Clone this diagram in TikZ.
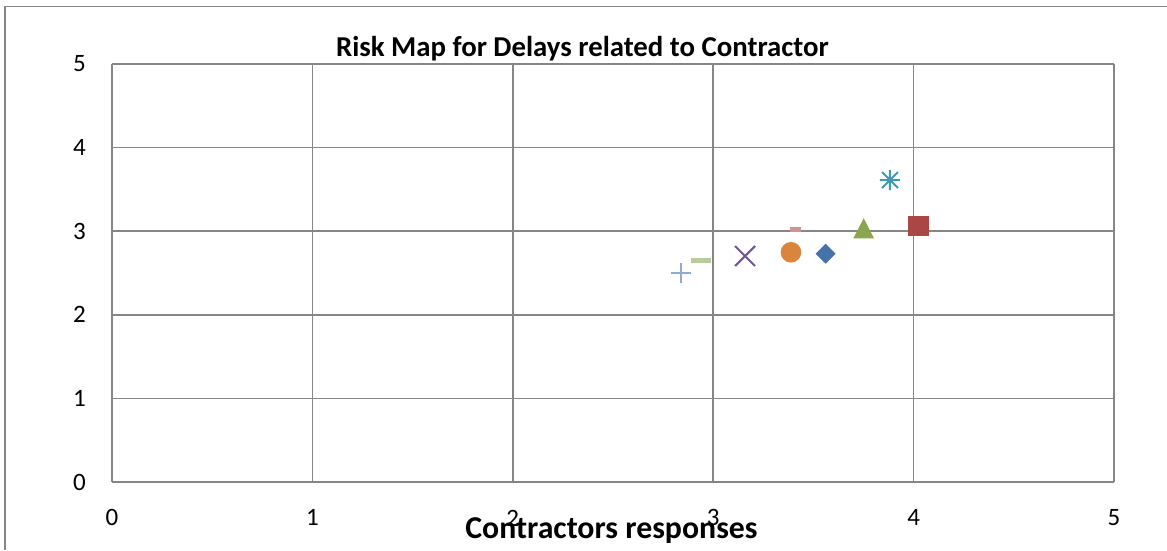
\documentclass[tikz,border=0pt]{standalone}
\usepackage{fontspec}
\setmainfont{Carlito}
\definecolor{gridc}{HTML}{868686}
\definecolor{cBlue}{HTML}{4572A7}
\definecolor{cRed}{HTML}{AA4643}
\definecolor{cGreen}{HTML}{89A54E}
\definecolor{cPurple}{HTML}{71588F}
\definecolor{cTeal}{HTML}{4198AF}
\definecolor{cOrange}{HTML}{DB843D}
\definecolor{cLBlue}{HTML}{93A9CF}
\definecolor{cPink}{HTML}{D19392}
\definecolor{cLGreen}{HTML}{B9CD96}
\begin{document}
\begin{tikzpicture}[x=1pt,y=1pt,
  gridline/.style={draw=gridc,line width=1.6pt},
  ticklab/.style={font=\fontsize{25}{27}\selectfont,inner sep=0pt},
  mk/.style={inner sep=0pt,outer sep=0pt},
  strokemark/.style={line width=2pt,line cap=butt}]
\useasboundingbox (0,0) rectangle (1167,550);
% outer chart border
\draw[gridc,line width=1.6pt] (5,0) -- (5,543.5) -- (1167,543.5);
\begin{scope}[shift={(112,68)},x=200.4pt,y=83.6pt]
  \foreach \i in {0,...,5} {
    \draw[gridline] (\i,0) -- (\i,5);
    \draw[gridline] (0,\i) -- (5,\i);
    \node[ticklab] (yl\i) at (-0.162,\i) {\i};
    \node[ticklab] (xl\i) at (\i,-0.43) {\i};
  }
  % data points
  \coordinate (pPlus) at (2.838,2.496);
  \coordinate (pDashG) at (2.938,2.647);
  \coordinate (pX) at (3.159,2.703);
  \coordinate (pDashP) at (3.412,3.026);
  \coordinate (pCirc) at (3.388,2.748);
  \coordinate (pDiam) at (3.561,2.731);
  \coordinate (pTri) at (3.751,3.035);
  \coordinate (pSq) at (4.026,3.062);
  \coordinate (pAst) at (3.882,3.612);
  % markers
  \draw[strokemark,cLBlue,shift={(pPlus)}] (-10pt,0) -- (10pt,0) (0,-10pt) -- (0,10pt);
  \node[mk,fill=cLGreen,minimum width=20pt,minimum height=5pt] (mDashG) at (pDashG) {};
  \draw[strokemark,cPurple,shift={(pX)}] (-10pt,-10pt) -- (10pt,10pt) (-10pt,10pt) -- (10pt,-10pt);
  \node[mk,fill=cPink,minimum width=11pt,minimum height=5pt] (mDashP) at (pDashP) {};
  \node[mk,circle,fill=cOrange,minimum size=20.6pt] (mCirc) at (pCirc) {};
  \fill[cBlue,shift={(pDiam)}] (0,10pt) -- (10pt,0) -- (0,-10pt) -- (-10pt,0) -- cycle;
  \fill[cGreen,shift={(pTri)}] (0,10pt) -- (10.3pt,-10pt) -- (-10.3pt,-10pt) -- cycle;
  \node[mk,fill=cRed,minimum width=21pt,minimum height=20pt] (mSq) at (pSq) {};
  \draw[strokemark,cTeal,shift={(pAst)}] (-10pt,0) -- (10pt,0) (0,-10pt) -- (0,10pt)
     (-8pt,-8pt) -- (8pt,8pt) (-8pt,8pt) -- (8pt,-8pt);
\end{scope}
\node[font=\bfseries\fontsize{28.8}{31}\selectfont,inner sep=0pt,anchor=base] (title) at (582.4,493.3) {Risk Map for Delays related to Contractor};
\node[font=\bfseries\fontsize{31.8}{34}\selectfont,inner sep=0pt,anchor=base] (xtitle) at (611.5,11.7) {Contractors responses};
\end{tikzpicture}
\end{document}
